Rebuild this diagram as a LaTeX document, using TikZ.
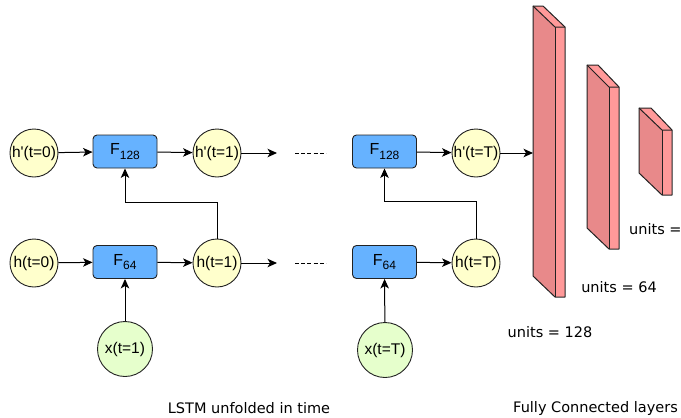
\documentclass[tikz,border=0pt]{standalone}
\usepackage{fontspec}
\setmainfont{Liberation Sans}
\newfontfamily\nodefont{Liberation Sans}
\newfontfamily\labelfont{DejaVu Sans}
\usetikzlibrary{arrows.meta}

\definecolor{hyellow}{HTML}{FFFFCC}
\definecolor{xgreen}{HTML}{E6FFCC}
\definecolor{fblue}{HTML}{66B2FF}
\definecolor{slabfront}{HTML}{E8898A}
\definecolor{slabside}{HTML}{FF9999}
\definecolor{edge}{HTML}{222222}

\newcommand{\cellsub}[1]{\raisebox{-0.28em}{\fontsize{12}{12}\selectfont #1}}

\tikzset{
  hstate/.style={circle, draw=edge, line width=0.9pt, fill=hyellow, minimum size=48pt, inner sep=0pt, font=\nodefont\fontsize{15.5}{16}\selectfont},
  xinput/.style={circle, draw=edge, line width=0.9pt, fill=xgreen, minimum size=55pt, inner sep=0pt, font=\nodefont\fontsize{15.5}{16}\selectfont},
  cell/.style={rectangle, rounded corners=4pt, draw=edge, line width=0.9pt, fill=fblue, minimum width=64pt, minimum height=33pt, inner sep=0pt, font=\nodefont\fontsize{16}{16}\selectfont},
  arr/.style={draw=black, line width=1pt, -{Stealth[length=9.5pt, width=8.5pt, inset=2.5pt]}},
  gap/.style={draw=black, line width=0.8pt, dash pattern=on 4pt off 2.2pt},
  slab/.style={draw=edge, line width=1pt, line join=round},
  caption/.style={font=\labelfont\fontsize{14.5}{15}\selectfont, inner sep=0pt}
}

\begin{document}
\begin{tikzpicture}[x=1pt, y=-1pt]
\useasboundingbox (0,0) rectangle (681,418);
\clip (0,0) rectangle (681,418);

% ---- upper LSTM layer (128 units) ----
\node[hstate] (hp0) at (34,153) {h'(t=0)};
\node[cell]   (f1)  at (125,151.5) {F\cellsub{128}};
\node[hstate] (hp1) at (217,153) {h'(t=1)};
\coordinate (hp1out) at (277,153);
\coordinate (d1a) at (295,153);
\coordinate (d1b) at (326,153);
\node[cell]   (f2)  at (384.5,151.5) {F\cellsub{128}};
\node[hstate] (hpT) at (476,153) {h'(t=T)};

% ---- lower LSTM layer (64 units) ----
\node[hstate] (h0) at (34,263) {h(t=0)};
\node[cell]   (g1) at (125,262) {F\cellsub{64}};
\node[hstate] (h1) at (217,263) {h(t=1)};
\coordinate (h1out) at (277,263);
\coordinate (d2a) at (295,263);
\coordinate (d2b) at (326,263);
\node[cell]   (g2) at (384.5,262) {F\cellsub{64}};
\node[hstate] (hT) at (476,263) {h(t=T)};

% ---- inputs ----
\node[xinput] (x1) at (125,349) {x(t=1)};
\node[xinput] (xT) at (385,350) {x(t=T)};

% ---- recurrent connections ----
\draw[arr] (hp0) -- (f1);
\draw[arr] (f1) -- (hp1);
\draw[arr] (hp1) -- (hp1out);
\draw[gap] (d1a) -- (d1b);
\draw[arr] (f2) -- (hpT);

\draw[arr] (h0) -- (g1);
\draw[arr] (g1) -- (h1);
\draw[arr] (h1) -- (h1out);
\draw[gap] (d2a) -- (d2b);
\draw[arr] (g2) -- (hT);

\draw[arr] (x1) -- (g1);
\draw[arr] (xT) -- (g2);

% ---- stacking: lower hidden state feeds upper cell ----
\draw[arr] (h1.north) |- ([yshift=-34pt]f1.south) -- (f1.south);
\draw[arr] (hT.north) |- ([yshift=-33pt]f2.south) -- (f2.south);

% ---- fully connected layers ----
% layer 1
\fill[slabside]  (533,6) -- (543,6) -- (565,27) -- (555,27) -- cycle;
\fill[slabfront] (533,6) -- (555,27) -- (555,297) -- (533,276) -- cycle;
\fill[slabside]  (555,27) -- (565,27) -- (565,297) -- (555,297) -- cycle;
\draw[slab] (533,6) -- (543,6) -- (565,27) -- (565,297) -- (555,297) -- (533,276) -- cycle;
\draw[slab] (533,6) -- (555,27) -- (565,27);
\draw[slab] (555,27) -- (555,297);
\coordinate (fc1in) at (533,153);
% layer 2
\fill[slabside]  (587,65) -- (598,65) -- (619,87) -- (609,87) -- cycle;
\fill[slabfront] (587,65) -- (609,87) -- (609,249) -- (587,228) -- cycle;
\fill[slabside]  (609,87) -- (619,87) -- (619,249) -- (609,249) -- cycle;
\draw[slab] (587,65) -- (598,65) -- (619,87) -- (619,249) -- (609,249) -- (587,228) -- cycle;
\draw[slab] (587,65) -- (609,87) -- (619,87);
\draw[slab] (609,87) -- (609,249);
% layer 3
\fill[slabside]  (639,108) -- (651,108) -- (672,130) -- (662,130) -- cycle;
\fill[slabfront] (639,108) -- (662,130) -- (662,195) -- (639,173) -- cycle;
\fill[slabside]  (662,130) -- (672,130) -- (672,195) -- (662,195) -- cycle;
\draw[slab] (639,108) -- (651,108) -- (672,130) -- (672,195) -- (662,195) -- (639,173) -- cycle;
\draw[slab] (639,108) -- (662,130) -- (672,130);
\draw[slab] (662,130) -- (662,195);

\draw[arr] (hpT) -- (fc1in);

% ---- labels ----
\node[caption] (u128) at (550,332) {units = 128};
\node[caption] (u64)  at (619,287) {units = 64};
\node[caption, anchor=west] (u32) at (629,229) {units =};
\node[caption] (lstmcap) at (249,408) {LSTM unfolded in time};
\node[caption, anchor=west] (fccap) at (513,408) {Fully Connected layers};
\end{tikzpicture}
\end{document}
